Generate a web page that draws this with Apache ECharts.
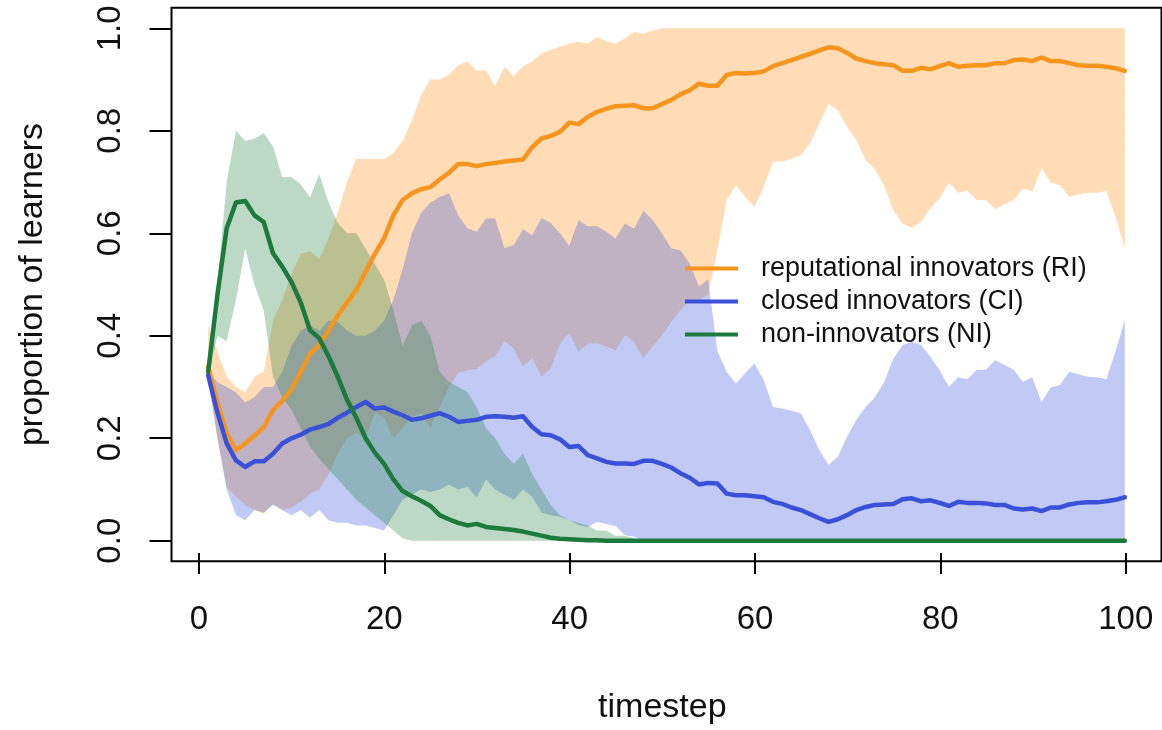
<!DOCTYPE html>
<html>
<head>
<meta charset="utf-8">
<script src="https://cdn.jsdelivr.net/npm/echarts@6/dist/echarts.min.js"></script>
<style>
html,body{margin:0;padding:0;background:#fff;}
#chart{width:1162px;height:730px;}
</style>
</head>
<body>
<div id="chart"></div>
<script>
const timesteps = [1,2,3,4,5,6,7,8,9,10,11,12,13,14,15,16,17,18,19,20,21,22,23,24,25,26,27,28,29,30,31,32,33,34,35,36,37,38,39,40,41,42,43,44,45,46,47,48,49,50,51,52,53,54,55,56,57,58,59,60,61,62,63,64,65,66,67,68,69,70,71,72,73,74,75,76,77,78,79,80,81,82,83,84,85,86,87,88,89,90,91,92,93,94,95,96,97,98,99,100];

const xTicks = [0, 20, 40, 60, 80, 100];
const yTicks = [0.0, 0.2, 0.4, 0.6, 0.8, 1.0];

const seriesNames = ['reputational innovators (RI)', 'closed innovators (CI)', 'non-innovators (NI)'];

const riMean = [0.34,0.27,0.21,0.177,0.19,0.205,0.222,0.255,0.273,0.295,
0.33,0.365,0.382,0.41,0.44,0.465,0.49,0.525,0.56,0.59,
0.635,0.665,0.678,0.686,0.69,0.705,0.718,0.735,0.735,0.731,
0.735,0.737,0.74,0.742,0.744,0.768,0.785,0.79,0.798,0.816,
0.813,0.827,0.837,0.843,0.848,0.849,0.85,0.844,0.844,0.852,
0.86,0.871,0.879,0.892,0.888,0.888,0.909,0.913,0.912,0.913,
0.916,0.926,0.932,0.938,0.944,0.95,0.957,0.963,0.961,0.952,
0.941,0.936,0.932,0.93,0.928,0.917,0.917,0.923,0.92,0.926,
0.932,0.925,0.927,0.928,0.928,0.932,0.932,0.938,0.939,0.936,
0.943,0.936,0.936,0.932,0.928,0.927,0.927,0.925,0.922,0.917];

const riUpper = [0.42,0.37,0.32,0.30,0.29,0.32,0.33,0.43,0.47,0.52,
0.56,0.565,0.55,0.59,0.64,0.70,0.745,0.745,0.745,0.745,
0.756,0.78,0.82,0.87,0.9,0.9,0.91,0.928,0.935,0.917,
0.918,0.887,0.925,0.907,0.926,0.935,0.951,0.958,0.964,0.97,
0.974,0.97,0.983,0.975,0.97,0.98,0.993,0.99,0.995,1,
1,1,1,1,1,1,1,1,1,1,
1,1,1,1,1,1,1,1,1,1,
1,1,1,1,1,1,1,1,1,1,
1,1,1,1,1,1,1,1,1,1,
1,1,1,1,1,1,1,1,1,1];

const riLower = [0.31,0.2,0.105,0.086,0.07,0.06,0.053,0.073,0.06,0.065,
0.076,0.092,0.1,0.13,0.17,0.2,0.21,0.2,0.25,0.24,
0.2,0.22,0.24,0.25,0.22,0.26,0.3,0.327,0.333,0.335,
0.35,0.36,0.39,0.375,0.34,0.356,0.32,0.336,0.385,0.405,
0.369,0.385,0.385,0.379,0.372,0.401,0.388,0.356,0.379,0.4,
0.427,0.45,0.47,0.47,0.48,0.567,0.665,0.694,0.671,0.652,
0.691,0.74,0.74,0.745,0.753,0.775,0.814,0.853,0.84,0.808,
0.782,0.743,0.725,0.694,0.645,0.619,0.611,0.622,0.649,0.668,
0.699,0.679,0.683,0.665,0.665,0.647,0.657,0.665,0.688,0.681,
0.727,0.699,0.694,0.671,0.676,0.679,0.679,0.683,0.632,0.571];

const ciMean = [0.323,0.25,0.19,0.157,0.144,0.155,0.155,0.17,0.19,0.2,
0.207,0.217,0.222,0.228,0.24,0.25,0.261,0.271,0.258,0.26,
0.252,0.245,0.236,0.239,0.244,0.249,0.242,0.232,0.234,0.236,
0.242,0.243,0.242,0.24,0.243,0.222,0.208,0.206,0.198,0.183,
0.185,0.167,0.161,0.154,0.151,0.151,0.15,0.156,0.156,0.15,
0.143,0.132,0.123,0.11,0.113,0.112,0.092,0.089,0.089,0.087,
0.085,0.076,0.072,0.065,0.06,0.052,0.044,0.037,0.042,0.05,
0.06,0.066,0.07,0.071,0.072,0.081,0.083,0.077,0.079,0.074,
0.068,0.076,0.074,0.074,0.073,0.07,0.07,0.063,0.061,0.063,
0.058,0.065,0.065,0.071,0.074,0.075,0.075,0.077,0.08,0.085];

const ciUpper = [0.33,0.31,0.30,0.29,0.27,0.28,0.30,0.30,0.33,0.38,
0.41,0.42,0.41,0.43,0.427,0.41,0.40,0.40,0.41,0.43,
0.47,0.53,0.60,0.64,0.66,0.671,0.678,0.635,0.61,0.603,
0.629,0.629,0.571,0.577,0.608,0.596,0.63,0.62,0.6,0.575,
0.626,0.614,0.614,0.603,0.59,0.619,0.609,0.644,0.626,0.6,
0.571,0.567,0.541,0.496,0.51,0.37,0.33,0.307,0.327,0.346,
0.314,0.261,0.258,0.254,0.249,0.216,0.177,0.148,0.164,0.203,
0.236,0.261,0.28,0.31,0.355,0.382,0.388,0.382,0.359,0.333,
0.3,0.319,0.315,0.334,0.334,0.353,0.343,0.334,0.31,0.319,
0.271,0.299,0.304,0.33,0.325,0.32,0.319,0.315,0.37,0.431];

const ciLower = [0.32,0.2,0.1,0.05,0.04,0.06,0.055,0.07,0.06,0.05,
0.06,0.045,0.06,0.04,0.035,0.035,0.03,0.03,0.025,0.02,
0.05,0.08,0.09,0.1,0.095,0.1,0.11,0.1,0.105,0.085,
0.12,0.1,0.09,0.08,0.1,0.086,0.055,0.05,0.047,0.04,
0.031,0.027,0.037,0.033,0.029,0.011,0.008,0,0,0,
0,0,0,0,0,0,0,0,0,0,
0,0,0,0,0,0,0,0,0,0,
0,0,0,0,0,0,0,0,0,0,
0,0,0,0,0,0,0,0,0,0,
0,0,0,0,0,0,0,0,0,0];

const niMean = [0.33,0.48,0.61,0.66,0.663,0.635,0.622,0.561,0.535,0.505,
0.465,0.411,0.395,0.36,0.32,0.275,0.24,0.2,0.172,0.15,
0.12,0.097,0.087,0.078,0.068,0.05,0.042,0.035,0.03,0.033,
0.027,0.025,0.023,0.021,0.018,0.014,0.01,0.006,0.004,0.003,
0.002,0.001,0.001,0,0,0,0,0,0,0,
0,0,0,0,0,0,0,0,0,0,
0,0,0,0,0,0,0,0,0,0,
0,0,0,0,0,0,0,0,0,0,
0,0,0,0,0,0,0,0,0,0,
0,0,0,0,0,0,0,0,0,0];

const niUpper = [0.34,0.50,0.70,0.80,0.78,0.785,0.795,0.77,0.71,0.71,
0.695,0.67,0.715,0.66,0.62,0.60,0.60,0.57,0.54,0.51,
0.45,0.38,0.42,0.43,0.40,0.33,0.31,0.30,0.29,0.26,
0.22,0.2,0.17,0.15,0.17,0.13,0.1,0.07,0.05,0.04,
0.035,0.03,0.02,0.02,0.01,0.01,0.005,0,0,0,
0,0,0,0,0,0,0,0,0,0,
0,0,0,0,0,0,0,0,0,0,
0,0,0,0,0,0,0,0,0,0,
0,0,0,0,0,0,0,0,0,0,
0,0,0,0,0,0,0,0,0,0];

const niLower = [0.32,0.40,0.39,0.47,0.57,0.50,0.45,0.32,0.28,0.255,
0.22,0.183,0.16,0.14,0.12,0.1,0.08,0.065,0.05,0.035,
0.02,0.005,0,0,0,0,0,0,0,0,
0,0,0,0,0,0,0,0,0,0,
0,0,0,0,0,0,0,0,0,0,
0,0,0,0,0,0,0,0,0,0,
0,0,0,0,0,0,0,0,0,0,
0,0,0,0,0,0,0,0,0,0,
0,0,0,0,0,0,0,0,0,0,
0,0,0,0,0,0,0,0,0,0];

const lineColors = ['#F5951E', '#3A50D8', '#1B7A3C'];
const bandColors = ['rgba(255,150,30,0.33)', 'rgba(60,90,225,0.32)', 'rgba(30,130,60,0.30)'];
const FONT = "'Liberation Sans', Arial, Helvetica, sans-serif";

function pairs(arr) { return timesteps.map((t, i) => [t, arr[i]]); }

function bandSeries(idx, key, upper, lower) {
  return {
    name: key + '-band', type: 'custom', coordinateSystem: 'cartesian2d',
    xAxisIndex: 0, yAxisIndex: 0, silent: true, clip: false,
    data: [[50, 0.5]],
    renderItem: function (params, api) {
      const pts = [];
      for (let i = 0; i < timesteps.length; i++) pts.push(api.coord([timesteps[i], upper[i]]));
      for (let i = timesteps.length - 1; i >= 0; i--) pts.push(api.coord([timesteps[i], lower[i]]));
      return { type: 'polygon', shape: { points: pts }, style: { fill: bandColors[idx], stroke: null } };
    },
    animation: false
  };
}

function lineSeries(idx, mean) {
  return {
    name: seriesNames[idx], type: 'line', xAxisIndex: 0, yAxisIndex: 0,
    data: pairs(mean), symbol: 'none', silent: true,
    itemStyle: { color: lineColors[idx] },
    lineStyle: { width: 4.5, color: lineColors[idx], cap: 'round', join: 'round' },
    animation: false
  };
}

const chart = echarts.init(document.getElementById('chart'), null, { renderer: 'canvas' });

const tickStyle = { color: '#000', width: 2 };

const option = {
  backgroundColor: '#ffffff',
  animation: false,
  textStyle: { fontFamily: FONT },
  grid: [
    { left: 171.5, right: 0.5, top: 7.8, bottom: 168.7, show: true, borderColor: '#000', borderWidth: 2, backgroundColor: 'transparent', containLabel: false },
    { left: 199, right: 36.3, top: 7.8, bottom: 168.7, show: false, containLabel: false },
    { left: 171.5, right: 0.5, top: 28.3, bottom: 189.3, show: false, containLabel: false }
  ],
  xAxis: [
    { gridIndex: 0, type: 'value', min: -2.96, max: 103.96, show: false },
    { gridIndex: 1, type: 'value', min: xTicks[0], max: xTicks[xTicks.length - 1], interval: xTicks[1] - xTicks[0],
      position: 'bottom',
      axisLine: { show: false },
      axisTick: { show: true, inside: false, length: 21, lineStyle: tickStyle },
      axisLabel: { show: true, margin: 50, fontSize: 33, color: '#111', fontFamily: FONT },
      splitLine: { show: false },
      name: 'timestep', nameLocation: 'middle', nameGap: 138,
      nameTextStyle: { fontSize: 34, color: '#111', fontFamily: FONT }
    },
    { gridIndex: 2, type: 'value', min: 0, max: 1, show: false }
  ],
  yAxis: [
    { gridIndex: 0, type: 'value', min: -0.04, max: 1.04, show: false },
    { gridIndex: 1, type: 'value', min: 0, max: 1, show: false },
    { gridIndex: 2, type: 'value', min: yTicks[0], max: yTicks[yTicks.length - 1], interval: 0.2,
      position: 'left',
      axisLine: { show: false },
      axisTick: { show: true, inside: false, length: 22, lineStyle: tickStyle },
      axisLabel: { show: true, margin: 44, rotate: 90, fontSize: 33, color: '#111', fontFamily: FONT,
        formatter: v => v.toFixed(1) },
      splitLine: { show: false },
      name: 'proportion of learners', nameLocation: 'middle', nameGap: 122,
      nameTextStyle: { fontSize: 34, color: '#111', fontFamily: FONT }
    }
  ],
  legend: {
    data: seriesNames,
    orient: 'vertical',
    left: 685, top: 252,
    padding: 0,
    itemGap: 0,
    itemWidth: 53, itemHeight: 4,
    icon: 'rect',
    selectedMode: false,
    textStyle: { fontSize: 27, color: '#111', fontFamily: FONT, lineHeight: 33, padding: [0, 0, 0, 18] }
  },
  series: [
    bandSeries(0, 'ri', riUpper, riLower),
    lineSeries(0, riMean),
    bandSeries(1, 'ci', ciUpper, ciLower),
    lineSeries(1, ciMean),
    bandSeries(2, 'ni', niUpper, niLower),
    lineSeries(2, niMean),
    { type: 'scatter', xAxisIndex: 1, yAxisIndex: 1, data: [], silent: true },
    { type: 'scatter', xAxisIndex: 2, yAxisIndex: 2, data: [], silent: true }
  ]
};

chart.setOption(option);
</script>
</body>
</html>
